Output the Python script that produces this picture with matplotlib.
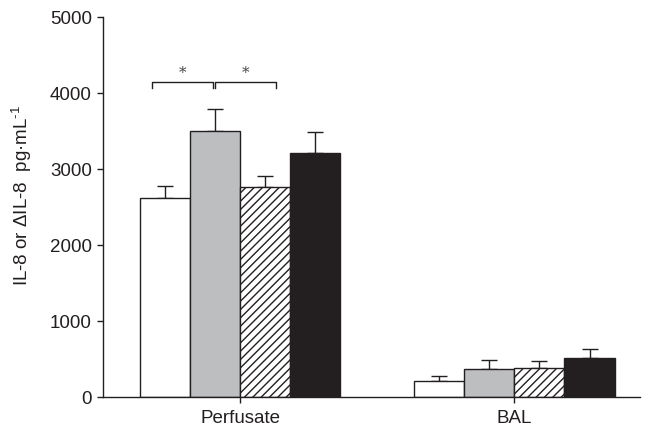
import numpy as np
import matplotlib
matplotlib.use("Agg")
import matplotlib.pyplot as plt

# DATA ----------------------------------------------------------------------

groups = ["Perfusate", "BAL"]
white_vals = [2620, 215]
white_err = [155, 60]
gray_vals = [3500, 368]
gray_err = [295, 120]
hatch_vals = [2760, 386]
hatch_err = [150, 92]
black_vals = [3215, 509]
black_err = [270, 123]

# PLOT ----------------------------------------------------------------------

plt.rcParams['font.family'] = ['Liberation Sans', 'DejaVu Sans']
plt.rcParams['mathtext.fontset'] = 'custom'
plt.rcParams['mathtext.rm'] = 'Liberation Sans'
plt.rcParams['mathtext.it'] = 'Liberation Sans'
plt.rcParams['hatch.linewidth'] = 1.0

EDGE = '#231f20'
W = 0.183

fig = plt.figure(figsize=(6.46, 4.33), dpi=100)
ax = fig.add_axes([0.1594, 0.0831, 0.832, 0.8776])

x = np.arange(len(groups))
series = [
    (white_vals, white_err, 'white', None),
    (gray_vals, gray_err, '#bcbec0', None),
    (hatch_vals, hatch_err, 'white', '////'),
    (black_vals, black_err, EDGE, None),
]
offsets = [-1.5, -0.5, 0.5, 1.5]
for (vals, err, color, hatch), off in zip(series, offsets):
    ax.bar(x + off * W, vals, W, color=color, edgecolor=EDGE, hatch=hatch,
           linewidth=1.0, zorder=2)
    ax.errorbar(x + off * W, vals, yerr=[np.zeros(len(err)), err], fmt='none',
                ecolor=EDGE, elinewidth=1.0, capsize=6, capthick=1.0, zorder=1)

# significance brackets
def bracket(x1, x2, y, h):
    ax.plot([x1, x1, x2, x2], [y - h, y, y, y - h], color=EDGE, lw=1.0)
    ax.text((x1 + x2) / 2, y + 20, '*', ha='center', va='bottom',
            fontsize=11, family='DejaVu Serif', color='#444444')

bracket(-0.32, -0.10, 4150, 90)
bracket(-0.09, 0.13, 4150, 90)

ax.set_xlim(-0.5, 1.46)
ax.set_ylim(0, 5000)
ax.set_yticks([0, 1000, 2000, 3000, 4000, 5000])
ax.set_xticks(x)
ax.set_xticklabels(groups)
ax.spines['top'].set_visible(False)
ax.spines['right'].set_visible(False)
for s in ['left', 'bottom']:
    ax.spines[s].set_color(EDGE)
    ax.spines[s].set_linewidth(1.0)
ax.tick_params(axis='both', colors=EDGE, labelsize=13.5, length=4, width=1.0,
               labelcolor=EDGE)
ax.tick_params(axis='y', pad=4)
ax.tick_params(axis='x', pad=5)
ax.set_ylabel('IL-8 or \u0394IL-8  pg\u00b7mL$^{\u20101}$', fontsize=13.5,
              color=EDGE)
ax.yaxis.set_label_coords(-0.128, 0.53)

fig.savefig('out.png', dpi=100)
